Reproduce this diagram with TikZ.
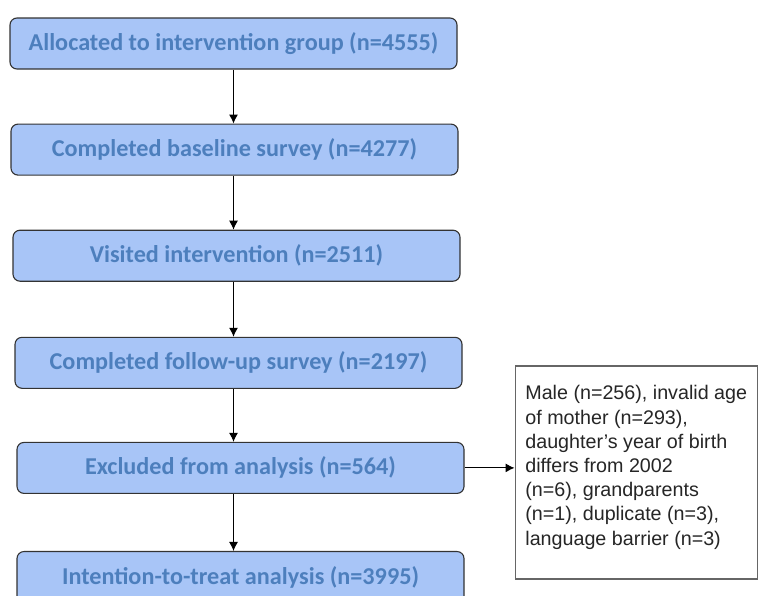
\documentclass[tikz,border=0pt]{standalone}
\usepackage{fontspec}
\setmainfont{Liberation Sans}
\newfontfamily\stagefont{Carlito}
\usetikzlibrary{positioning, arrows.meta}
\definecolor{stagefill}{HTML}{A8C5F7}
\definecolor{stagetext}{HTML}{4D7FBD}
\definecolor{stageline}{HTML}{333333}
\definecolor{notegray}{HTML}{666666}

\begin{document}
\begin{tikzpicture}[
    stage/.style={rectangle, rounded corners=7pt, draw=stageline, line width=1.1pt, fill=stagefill, minimum width=447pt, minimum height=51pt, text=stagetext, font=\stagefont\bfseries\fontsize{24.2}{28}\selectfont},
    note/.style={rectangle, draw=notegray, line width=1.4pt, fill=white, minimum width=242pt, minimum height=213pt, align=left, inner xsep=10pt, text depth=14pt, text=black!85, font=\fontsize{19.7}{24.2}\selectfont},
    flow/.style={-{Latex[length=9pt, width=9pt]}, line width=1pt},
    ]
   \useasboundingbox (0,0) rectangle (759pt,-595pt);

   % Flow of participants
   \node[stage] (alloc) at (233.5pt,-43.5pt) {Allocated to intervention group (n=4555)};
   \node[stage, below=54pt of alloc, xshift=1pt] (baseline) {Completed baseline survey (n=4277)};
   \node[stage, below=54pt of baseline, xshift=2pt] (visited) {Visited intervention (n=2511)};
   \node[stage, below=55pt of visited, xshift=2pt] (followup) {Completed follow-up survey (n=2197)};
   \node[stage, below=53pt of followup, xshift=2pt] (excluded) {Excluded from analysis (n=564)};
   \node[stage, below=57pt of excluded] (itt) {Intention-to-treat analysis (n=3995)};

   % Reasons for exclusion
   \node[note, right=50pt of excluded, yshift=-4.5pt] (reasons) {Male (n=256), invalid age\\of mother (n=293),\\daughter’s year of birth\\differs from 2002\\(n=6), grandparents\\(n=1), duplicate (n=3),\\language barrier (n=3)};

   \draw[flow] (alloc.south) -- (baseline.north -| alloc.south);
   \draw[flow] (baseline.south -| alloc.south) -- (visited.north -| alloc.south);
   \draw[flow] (visited.south -| alloc.south) -- (followup.north -| alloc.south);
   \draw[flow] (followup.south -| alloc.south) -- (excluded.north -| alloc.south);
   \draw[flow] (excluded.south -| alloc.south) -- (itt.north -| alloc.south);

   \draw[flow] (excluded.east) -- (excluded.east -| reasons.west);

\end{tikzpicture}
\end{document}
